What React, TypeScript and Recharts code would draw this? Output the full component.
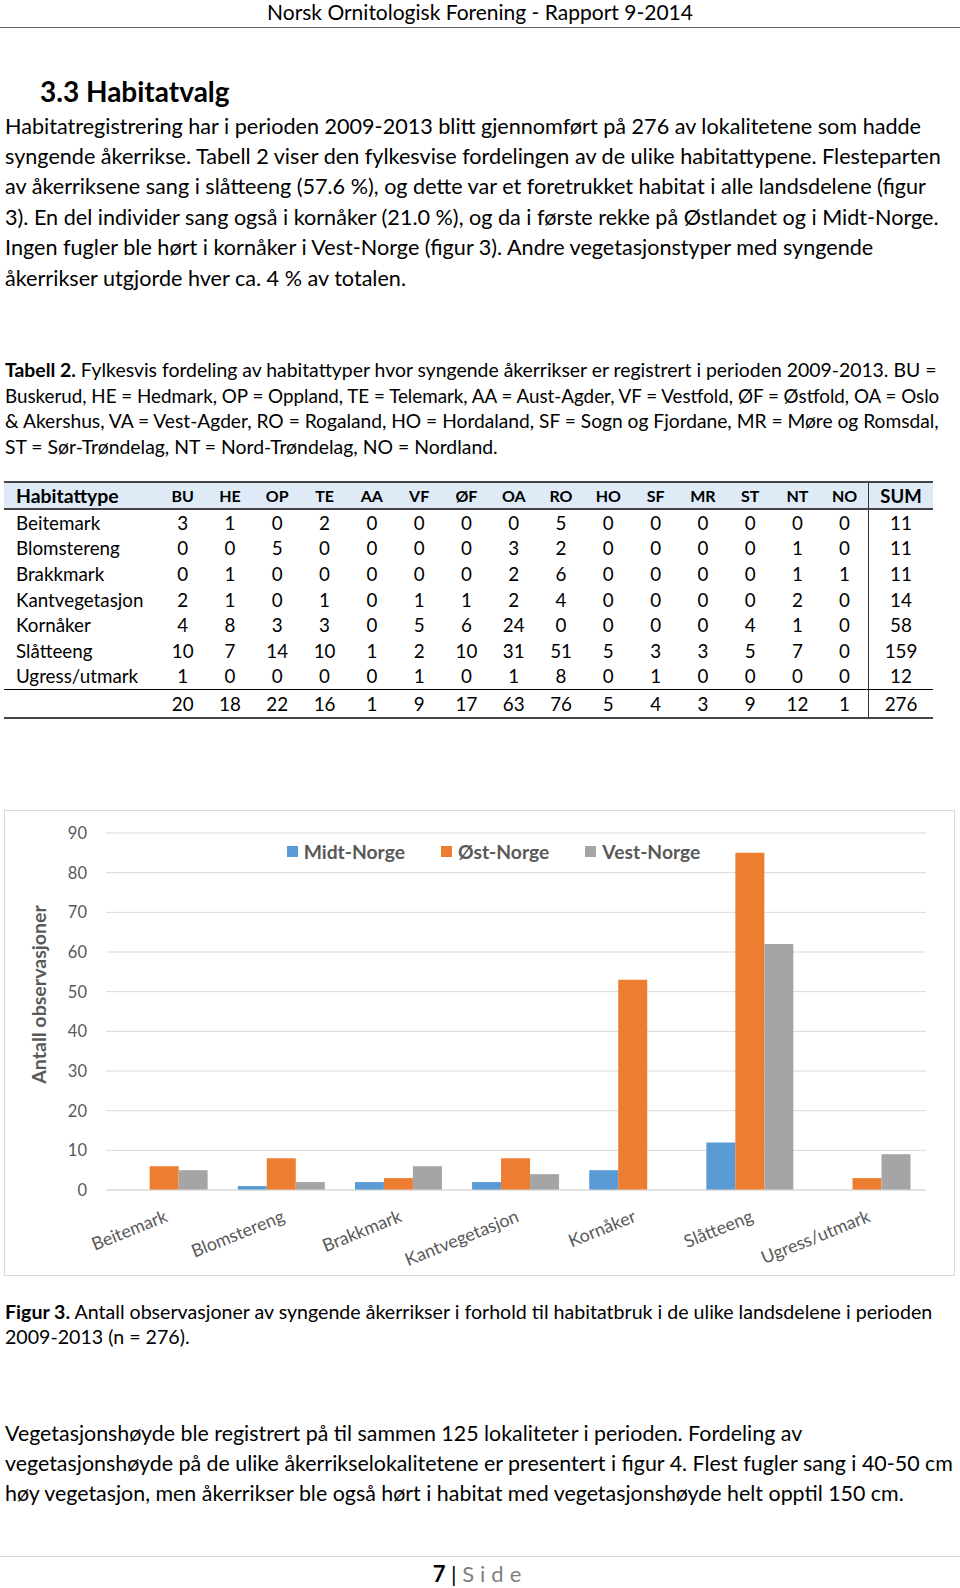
import { Bar, BarChart, CartesianGrid, Label, Legend, XAxis, YAxis } from 'recharts'

const HABITATER = ['Beitemark', 'Blomstereng', 'Brakkmark', 'Kantvegetasjon', 'Kornåker', 'Slåtteeng', 'Ugress/utmark']
const SERIER = ['Midt-Norge', 'Øst-Norge', 'Vest-Norge']
const MIDT_NORGE = [0, 1, 2, 2, 5, 12, 0]
const OST_NORGE = [6, 8, 3, 8, 53, 85, 3]
const VEST_NORGE = [5, 2, 6, 4, 0, 62, 9]
const Y_TICKS = [0, 10, 20, 30, 40, 50, 60, 70, 80, 90]

// tabell 2
const FYLKER = ['BU', 'HE', 'OP', 'TE', 'AA', 'VF', 'ØF', 'OA', 'RO', 'HO', 'SF', 'MR', 'ST', 'NT', 'NO']
const BEITEMARK = [3, 1, 0, 2, 0, 0, 0, 0, 5, 0, 0, 0, 0, 0, 0]
const BLOMSTERENG = [0, 0, 5, 0, 0, 0, 0, 3, 2, 0, 0, 0, 0, 1, 0]
const BRAKKMARK = [0, 1, 0, 0, 0, 0, 0, 2, 6, 0, 0, 0, 0, 1, 1]
const KANTVEGETASJON = [2, 1, 0, 1, 0, 1, 1, 2, 4, 0, 0, 0, 0, 2, 0]
const KORNAKER = [4, 8, 3, 3, 0, 5, 6, 24, 0, 0, 0, 0, 4, 1, 0]
const SLATTEENG = [10, 7, 14, 10, 1, 2, 10, 31, 51, 5, 3, 3, 5, 7, 0]
const UGRESS = [1, 0, 0, 0, 0, 1, 0, 1, 8, 0, 1, 0, 0, 0, 0]
const RADER: [string, number[]][] = [
  ['Beitemark', BEITEMARK],
  ['Blomstereng', BLOMSTERENG],
  ['Brakkmark', BRAKKMARK],
  ['Kantvegetasjon', KANTVEGETASJON],
  ['Kornåker', KORNAKER],
  ['Slåtteeng', SLATTEENG],
  ['Ugress/utmark', UGRESS],
]

const FONT = 'Lato, "Open Sans", sans-serif'
const GRA = '#595959'
const BLA = '#5B9BD5'
const ORANSJE = '#ED7D31'
const GRAA_SOYLE = '#A5A5A5'

const data = HABITATER.map((h, i) => ({
  habitat: h,
  'Midt-Norge': MIDT_NORGE[i],
  'Øst-Norge': OST_NORGE[i],
  'Vest-Norge': VEST_NORGE[i],
}))

function Linje({ y, x = 5, size = 21.6, lh = 28, bold = false, center = false, children }: any) {
  return (
    <div
      style={{
        position: 'absolute',
        top: y - lh / 2,
        left: center ? 0 : x,
        width: center ? 960 : undefined,
        textAlign: center ? 'center' : 'left',
        lineHeight: `${lh}px`,
        fontSize: size,
        fontWeight: bold ? 700 : 400,
        whiteSpace: 'nowrap',
      }}
    >
      {children}
    </div>
  )
}

function Kategori({ x, y, payload }: any) {
  return (
    <g transform={`translate(${x + 4},${y + 23})`}>
      <text textAnchor="end" transform="rotate(-22)" fill={GRA} fontSize={17.8} fontFamily={FONT}>
        {payload.value}
      </text>
    </g>
  )
}

function YTittel({ viewBox }: any) {
  const cx = viewBox.x + 33.5
  const cy = viewBox.y + viewBox.height / 2 - 17
  return (
    <text
      x={cx}
      y={cy}
      transform={`rotate(-90 ${cx} ${cy})`}
      textAnchor="middle"
      dominantBaseline="central"
      fill={GRA}
      fontSize={19.6}
      fontWeight={700}
      fontFamily={FONT}
    >
      Antall observasjoner
    </text>
  )
}

function Forklaring({ payload }: any) {
  const items = [...(payload ?? [])].sort((a: any, b: any) => SERIER.indexOf(a.value) - SERIER.indexOf(b.value))
  return (
    <div style={{ display: 'flex', alignItems: 'center', fontFamily: FONT, fontWeight: 700, fontSize: 19.3, color: GRA, whiteSpace: 'nowrap' }}>
      {items.map((p: any) => (
        <span key={p.value} style={{ display: 'flex', alignItems: 'center', marginRight: 36 }}>
          <span style={{ width: 11, height: 11, background: p.color, marginRight: 6 }} />
          {p.value}
        </span>
      ))}
    </div>
  )
}

function Tabell() {
  const td: any = { padding: 0, height: 25.6, textAlign: 'center' }
  const sumTd: any = { ...td, borderLeft: '1px solid #333' }
  return (
    <table
      style={{
        position: 'absolute',
        left: 4,
        top: 481,
        width: 929,
        borderCollapse: 'collapse',
        tableLayout: 'fixed',
        fontSize: 18.8,
        lineHeight: '20px',
      }}
    >
      <colgroup>
        <col style={{ width: 155 }} />
        {FYLKER.map((f) => (
          <col key={f} style={{ width: 47.3 }} />
        ))}
        <col />
      </colgroup>
      <thead>
        <tr style={{ background: '#DEEBF7', borderTop: '2px solid #444', borderBottom: '2px solid #444' }}>
          <th style={{ ...td, height: 25, textAlign: 'left', paddingLeft: 12, fontSize: 19.4 }}>Habitattype</th>
          {FYLKER.map((f) => (
            <th key={f} style={{ ...td, height: 25, fontSize: 16 }}>
              {f}
            </th>
          ))}
          <th style={{ ...sumTd, height: 25, fontSize: 18.5 }}>SUM</th>
        </tr>
      </thead>
      <tbody>
        {RADER.map(([navn, verdier]) => (
          <tr key={navn}>
            <td style={{ ...td, textAlign: 'left', paddingLeft: 12 }}>{navn}</td>
            {verdier.map((v, i) => (
              <td key={i} style={td}>
                {v}
              </td>
            ))}
            <td style={sumTd}>{verdier.reduce((a, b) => a + b, 0)}</td>
          </tr>
        ))}
        <tr style={{ borderTop: '1px solid #000', borderBottom: '2px solid #444' }}>
          <td style={{ ...td, height: 27 }} />
          {FYLKER.map((f, i) => (
            <td key={f} style={{ ...td, height: 27 }}>
              {RADER.reduce((s, r) => s + r[1][i], 0)}
            </td>
          ))}
          <td style={{ ...sumTd, height: 27 }}>{RADER.reduce((s, r) => s + r[1].reduce((a, b) => a + b, 0), 0)}</td>
        </tr>
      </tbody>
    </table>
  )
}

export default function App() {
  return (
    <div
      style={{
        position: 'absolute',
        left: 0,
        top: 0,
        width: 960,
        height: 1588,
        background: '#fff',
        fontFamily: FONT,
        color: '#000',
        overflow: 'hidden',
      }}
    >
      <Linje y={12} center size={21} lh={26}>
        Norsk Ornitologisk Forening - Rapport 9-2014
      </Linje>
      <div style={{ position: 'absolute', left: 0, top: 27, width: 960, height: 1, background: '#666' }} />

      <Linje y={91} x={40} size={28} lh={34} bold>
        3.3 Habitatvalg
      </Linje>

      <Linje y={125.6}>Habitatregistrering har i perioden 2009-2013 blitt gjennomført på 276 av lokalitetene som hadde</Linje>
      <Linje y={156}>syngende åkerrikse. Tabell 2 viser den fylkesvise fordelingen av de ulike habitattypene. Flesteparten</Linje>
      <Linje y={186.3}>av åkerriksene sang i slåtteeng (57.6 %), og dette var et foretrukket habitat i alle landsdelene (figur</Linje>
      <Linje y={216.7}>3). En del individer sang også i kornåker (21.0 %), og da i første rekke på Østlandet og i Midt-Norge.</Linje>
      <Linje y={247}>Ingen fugler ble hørt i kornåker i Vest-Norge (figur 3). Andre vegetasjonstyper med syngende</Linje>
      <Linje y={277.5}>åkerrikser utgjorde hver ca. 4 % av totalen.</Linje>

      <Linje y={370} size={19.4} lh={26}>
        <b>Tabell 2.</b> Fylkesvis fordeling av habitattyper hvor syngende åkerrikser er registrert i perioden 2009-2013. BU =
      </Linje>
      <Linje y={395.7} size={18.8} lh={26}>
        Buskerud, HE = Hedmark, OP = Oppland, TE = Telemark, AA = Aust-Agder, VF = Vestfold, ØF = Østfold, OA = Oslo
      </Linje>
      <Linje y={421.3} size={19.2} lh={26}>
        &amp; Akershus, VA = Vest-Agder, RO = Rogaland, HO = Hordaland, SF = Sogn og Fjordane, MR = Møre og Romsdal,
      </Linje>
      <Linje y={447} size={19.4} lh={26}>
        ST = Sør-Trøndelag, NT = Nord-Trøndelag, NO = Nordland.
      </Linje>

      <Tabell />

      <div
        style={{
          position: 'absolute',
          left: 4,
          top: 810,
          width: 951,
          height: 466,
          border: '1px solid #d9d9d9',
          boxSizing: 'border-box',
        }}
      >
        <BarChart
          width={949}
          height={464}
          data={data}
          margin={{ top: 22, right: 28, left: 0, bottom: 5 }}
          barCategoryGap="12.5%"
          barGap={0}
        >
          <CartesianGrid vertical={false} stroke="#d9d9d9" />
          <XAxis
            dataKey="habitat"
            interval={0}
            height={80}
            tickLine={false}
            axisLine={{ stroke: '#d9d9d9' }}
            tick={<Kategori />}
          />
          <YAxis
            width={101}
            domain={[0, 90]}
            ticks={Y_TICKS}
            interval={0}
            axisLine={false}
            tickLine={false}
            tickMargin={13}
            tick={{ fill: GRA, fontSize: 16.5, fontFamily: FONT }}
          >
            <Label content={<YTittel />} />
          </YAxis>
          <Legend
            layout="horizontal"
            verticalAlign="middle"
            align="center"
            content={<Forklaring />}
            wrapperStyle={{ left: 281.7, top: 28.7, width: 'auto', height: 24 }}
          />
          <Bar dataKey="Midt-Norge" fill={BLA} isAnimationActive={false} />
          <Bar dataKey="Øst-Norge" fill={ORANSJE} isAnimationActive={false} />
          <Bar dataKey="Vest-Norge" fill={GRAA_SOYLE} isAnimationActive={false} />
        </BarChart>
      </div>

      <Linje y={1311.5} size={19.6}>
        <b>Figur 3.</b> Antall observasjoner av syngende åkerrikser i forhold til habitatbruk i de ulike landsdelene i perioden
      </Linje>
      <Linje y={1337} size={19.6}>2009-2013 (n = 276).</Linje>

      <Linje y={1432.5} size={21.4}>Vegetasjonshøyde ble registrert på til sammen 125 lokaliteter i perioden. Fordeling av</Linje>
      <Linje y={1462.5} size={21.4}>vegetasjonshøyde på de ulike åkerrikselokalitetene er presentert i figur 4. Flest fugler sang i 40-50 cm</Linje>
      <Linje y={1493} size={21.4}>høy vegetasjon, men åkerrikser ble også hørt i habitat med vegetasjonshøyde helt opptil 150 cm.</Linje>

      <div style={{ position: 'absolute', left: 0, top: 1556, width: 960, height: 1, background: '#d9d9d9' }} />
      <Linje y={1574} center size={22} lh={28}>
        <b>7</b> | <span style={{ color: '#7f7f7f', letterSpacing: 6 }}>Side</span>
      </Linje>
    </div>
  )
}
